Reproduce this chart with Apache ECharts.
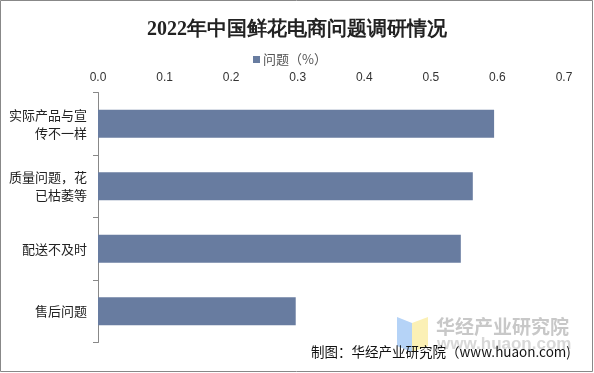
<!DOCTYPE html>
<html><head><meta charset="utf-8">
<script src="https://cdn.jsdelivr.net/npm/echarts@6/dist/echarts.min.js"></script>
<style>html,body{margin:0;padding:0;background:#fff}#c{width:594px;height:373px}</style>
</head><body><div id="c"></div>
<script>
const categories = ["实际产品与宣\n传不一样", "质量问题，花\n已枯萎等", "配送不及时", "售后问题"];
const values = [0.595, 0.563, 0.545, 0.297];
const seriesName = "问题（%）";
const titleText = "2022年中国鲜花电商问题调研情况";
const sourceText = "制图：华经产业研究院（www.huaon.com)";

const chart = echarts.init(document.getElementById('c'));
chart.setOption({
  animation: false,
  backgroundColor: '#fff',
  title: {
    text: titleText, left: 'center', top: 15,
    textStyle: {fontFamily: 'Liberation Serif, serif', fontSize: 20, fontWeight: 'bold', color: '#222'}
  },
  legend: {
    top: 48, left: 248, itemWidth: 7, itemHeight: 7, itemGap: 3,
    icon: 'rect',
    textStyle: {fontSize: 13, color: '#555', fontFamily: 'Noto Sans CJK SC', padding: [0,0,0,-2]},
    data: [seriesName]
  },
  grid: {left: 98, right: 30, top: 92.5, bottom: 30.5, containLabel: false},
  xAxis: {
    type: 'value', position: 'top', min: 0, max: 0.7, interval: 0.1,
    axisLine: {show: false}, axisTick: {show: false}, splitLine: {show: false},
    axisLabel: {formatter: v => v.toFixed(1), color: '#333', fontSize: 12, margin: 9, fontFamily: 'Liberation Sans, Arial'}
  },
  yAxis: {
    type: 'category', inverse: true, data: categories,
    axisLine: {show: true, lineStyle: {color: '#888', width: 1}},
    axisTick: {show: true, length: 5, lineStyle: {color: '#888'}},
    axisLabel: {color: '#222', fontSize: 13, margin: 11, lineHeight: 18, fontFamily: 'Noto Sans CJK SC'}
  },
  series: [{
    name: seriesName, type: 'bar', data: values, barCategoryGap: '55%',
    itemStyle: {color: '#687CA0'}
  }],
  graphic: [
    {type: 'rect', shape: {x: 0.5, y: 0.5, width: 592, height: 371}, style: {fill: null, stroke: '#888', lineWidth: 1}, silent: true},
    {type: 'polygon', shape: {points: [[397,317],[412,323],[412,352],[397,346]]}, style: {fill: '#B5D3F7'}, silent: true},
    {type: 'polygon', shape: {points: [[412,323],[428,317],[428,346],[412,352]]}, style: {fill: '#FBF0B5'}, silent: true},
    {type: 'text', left: 436, top: 317, style: {text: '华经产业研究院', fontSize: 19, fontWeight: 'bold', fill: '#C8C8C8', fontFamily: 'Noto Sans CJK SC'}, silent: true},
    {type: 'text', left: 437, top: 336, style: {text: 'www.huaon.com', fontSize: 17, fontWeight: 'bold', fill: '#D8D8D8', fontFamily: 'Liberation Sans'}, silent: true},
    {type: 'text', left: 311, top: 345, style: {text: sourceText, fontSize: 13.5, fill: '#111', fontFamily: 'Noto Sans CJK SC'}, silent: true}
  ]
});
</script></body></html>
